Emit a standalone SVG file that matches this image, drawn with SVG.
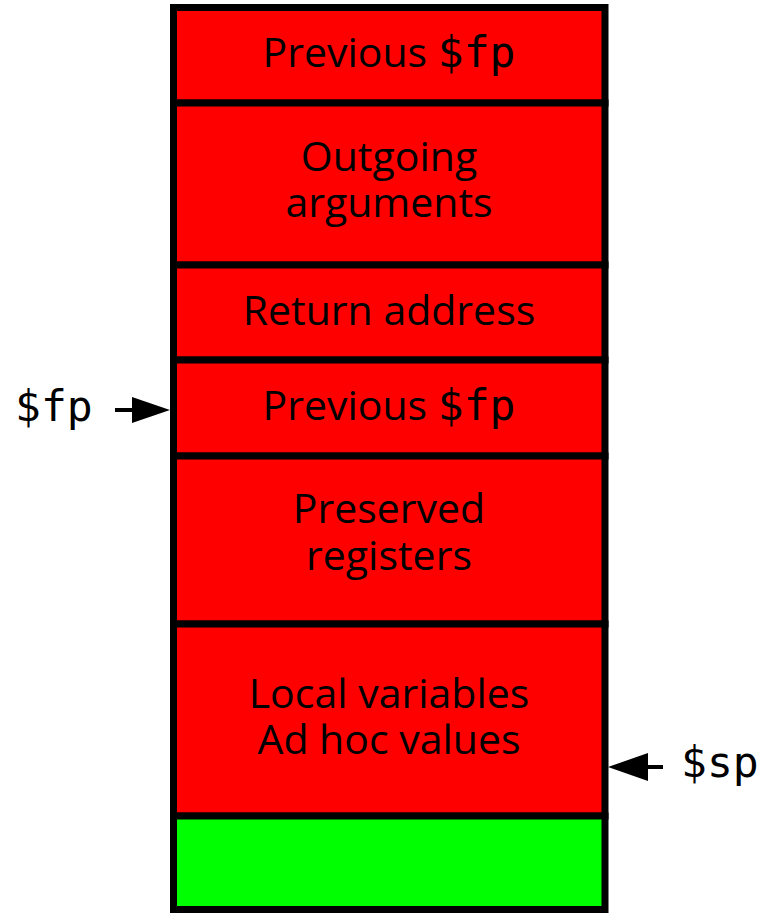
<svg xmlns="http://www.w3.org/2000/svg" width="777" height="913" viewBox="0 0 777 913">
  <style>
    .frame { fill: #ff0000; stroke: #000; stroke-width: 7; }
    .free { fill: #00ff00; stroke: #000; stroke-width: 7; }
    .lbl { font-family: "Open Sans", "Liberation Sans", sans-serif; font-size: 41px; fill: #000; text-anchor: middle; }
    .mono { font-family: "DejaVu Sans Mono", "Liberation Mono", monospace; font-size: 43px; }
    .ptr { font-family: "DejaVu Sans Mono", "Liberation Mono", monospace; font-size: 43px; fill: #000; }
    .wire { stroke: #000; stroke-width: 4; fill: none; }
  </style>
  <rect width="777" height="913" fill="#fff"/>

  <g id="prev-fp-top">
    <rect class="frame" x="173.5" y="7.5" width="431.5" height="95.5"/>
    <text class="lbl" x="389" y="67">Previous <tspan class="mono">$fp</tspan></text>
  </g>
  <g id="outgoing-args">
    <rect class="frame" x="173.5" y="103" width="431.5" height="162"/>
    <text class="lbl" x="389" y="171">Outgoing</text>
    <text class="lbl" x="389" y="217">arguments</text>
  </g>
  <g id="return-address">
    <rect class="frame" x="173.5" y="265" width="431.5" height="95"/>
    <text class="lbl" x="389" y="325">Return address</text>
  </g>
  <g id="prev-fp">
    <rect class="frame" x="173.5" y="360" width="431.5" height="96"/>
    <text class="lbl" x="389" y="420">Previous <tspan class="mono">$fp</tspan></text>
  </g>
  <g id="preserved-regs">
    <rect class="frame" x="173.5" y="456" width="431.5" height="168"/>
    <text class="lbl" x="389" y="523">Preserved</text>
    <text class="lbl" x="389" y="570">registers</text>
  </g>
  <g id="locals">
    <rect class="frame" x="173.5" y="624" width="431.5" height="192"/>
    <text class="lbl" x="389" y="708">Local variables</text>
    <text class="lbl" x="389" y="754">Ad hoc values</text>
  </g>
  <g id="free-space">
    <rect class="free" x="173.5" y="816" width="431.5" height="93.5"/>
  </g>

  <g id="fp-label">
    <text class="ptr" x="15" y="421">$fp</text>
  </g>
  <g id="sp-label">
    <text class="ptr" x="681" y="777">$sp</text>
  </g>

  <g id="connectors">
    <line class="wire" x1="115" y1="410" x2="136" y2="410"/>
    <polygon points="170,410 132,397 132,423" fill="#000"/>
    <line class="wire" x1="644" y1="767" x2="663" y2="767"/>
    <polygon points="608,767 648,753 648,781" fill="#000"/>
  </g>
</svg>
